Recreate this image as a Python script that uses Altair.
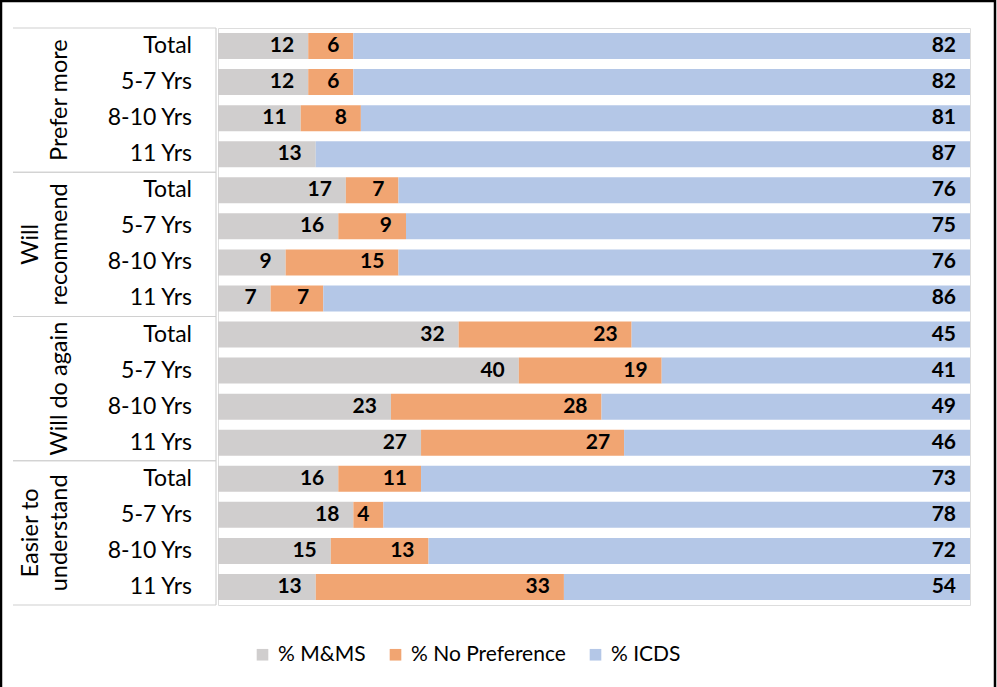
import altair as alt
import pandas as pd

FONT = "Lato"

groups = ["Prefer more", "Will recommend", "Will do again", "Easier to understand"]
group_text = ["Prefer more", "Will\nrecommend", "Will do again", "Easier to\nunderstand"]
subgroups = ["Total", "5-7 Yrs", "8-10 Yrs", "11 Yrs"]
series = ["% M&MS", "% No Preference", "% ICDS"]
colors = ["#D0CECE", "#F1A572", "#B4C7E7"]

mms = [12, 12, 11, 13, 17, 16, 9, 7, 32, 40, 23, 27, 16, 18, 15, 13]
nopref = [6, 6, 8, 0, 7, 9, 15, 7, 23, 19, 28, 27, 11, 4, 13, 33]
icds = [82, 82, 81, 87, 76, 75, 76, 86, 45, 41, 49, 46, 73, 78, 72, 54]

rows = []
row_order = []
for gi, g in enumerate(groups):
    for si, s in enumerate(subgroups):
        row_order.append(f"{g}|{s}")
        rows.append({"group": g, "sub": s, "row": f"{g}|{s}"})
rows_df = pd.DataFrame(rows)

long = []
for i, r in enumerate(rows):
    for k, (name, vals) in enumerate(zip(series, [mms, nopref, icds])):
        long.append({"row": r["row"], "series": name, "sidx": k, "value": vals[i]})
df = pd.DataFrame(long)

gdf = pd.DataFrame({"group": groups, "label": group_text})

W, H = 752, 577

row_scale = alt.Scale(domain=row_order, paddingInner=0.28, paddingOuter=0.14)
xscale = alt.Scale(domain=[0, 100], nice=False, zero=True)


def yrow():
    return alt.Y("row:N", sort=row_order, scale=row_scale, axis=None)


def ygrp(bp=None):
    kw = {}
    if bp is not None:
        kw["bandPosition"] = bp
    return alt.Y("group:N", sort=groups,
                 scale=alt.Scale(domain=groups, paddingInner=0, paddingOuter=0),
                 axis=None, **kw)


bars = alt.Chart(df).mark_bar().encode(
    x=alt.X("value:Q", stack="zero", scale=xscale, axis=None),
    y=yrow(),
    color=alt.Color(
        "series:N",
        scale=alt.Scale(domain=series, range=colors),
        legend=alt.Legend(
            title=None, orient="none", direction="horizontal",
            legendX=34, legendY=616, symbolType="square", symbolSize=135,
            symbolStrokeWidth=0, labelFontSize=21, labelFont=FONT,
            labelColor="#000", labelOffset=5, columnPadding=19,
        ),
    ),
    order=alt.Order("sidx:Q"),
)

labels = alt.Chart(df).transform_filter("datum.value > 0").transform_stack(
    stack="value", groupby=["row"], sort=[alt.SortField(field="sidx", order="ascending")],
    as_=["v0", "v1"],
).mark_text(align="right", baseline="middle", dx=-14, fontWeight="bold",
            fontSize=21, font=FONT, color="#000").encode(
    x=alt.X("v1:Q", scale=xscale, axis=None),
    y=yrow(),
    text="value:Q",
)

row_labels = alt.Chart(rows_df).mark_text(
    align="right", baseline="middle", fontSize=23, font=FONT, color="#000"
).encode(x=alt.value(-26), y=yrow(), text="sub:N")

gl_style = dict(align="center", baseline="middle", angle=270, fontSize=23.5,
                font=FONT, color="#000", lineBreak="\n", lineHeight=29)
group_labels_1 = alt.Chart(gdf).transform_filter(
    "indexof(datum.label, '\\n') < 0").mark_text(**gl_style).encode(
    x=alt.value(-158), y=ygrp(), text="label:N")
group_labels_2 = alt.Chart(gdf).transform_filter(
    "indexof(datum.label, '\\n') >= 0").mark_text(**gl_style).encode(
    x=alt.value(-187), y=ygrp(), text="label:N")

hl_top = alt.Chart(gdf).mark_rule(color="#D0D0D0", strokeWidth=1.2).encode(
    y=ygrp(0), x=alt.value(-205), x2=alt.value(-2))
hl_bot = alt.Chart(gdf).mark_rule(color="#D0D0D0", strokeWidth=1.2).encode(
    y=ygrp(1), x=alt.value(-205), x2=alt.value(-2))
vline = alt.Chart(pd.DataFrame({"a": [0]})).mark_rule(color="#D0D0D0", strokeWidth=1.2).encode(
    x=alt.value(-2), y=alt.value(0), y2=alt.value(H))

border = alt.Chart(pd.DataFrame({"a": [0]})).mark_rect(
    fillOpacity=0, stroke="#000", strokeWidth=2.5).encode(
    x=alt.value(-217), x2=alt.value(777), y=alt.value(-27), y2=alt.value(665))

chart = alt.layer(
    bars, labels, row_labels, group_labels_1, group_labels_2, hl_top, hl_bot, vline, border
).resolve_scale(y="independent").properties(
    width=W, height=H,
    autosize=alt.AutoSizeParams(type="none"),
    padding={"left": 218, "top": 28, "right": 27, "bottom": 82},
).configure_view(stroke=None).configure(background="#ffffff")

chart.save("out.html", embed_options={"renderer": "svg", "actions": False})
